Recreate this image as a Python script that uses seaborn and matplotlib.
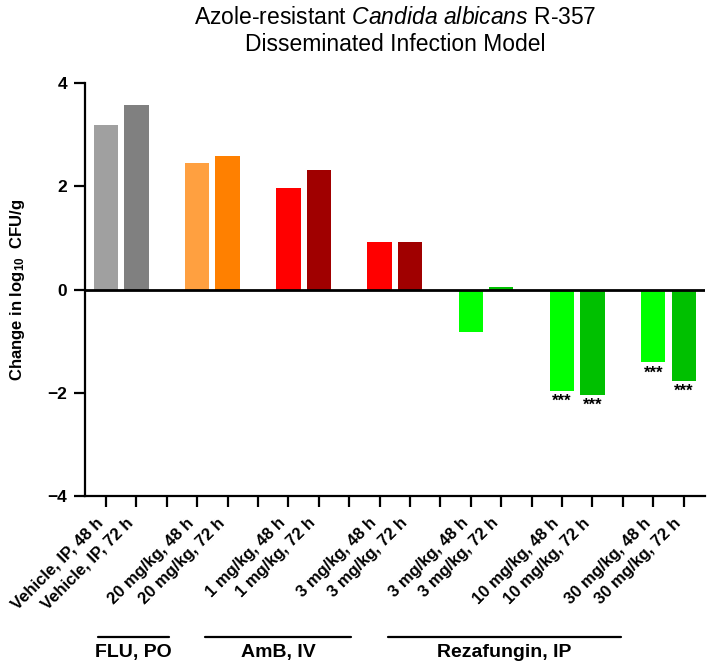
import matplotlib
matplotlib.use("Agg")
import matplotlib.pyplot as plt
from matplotlib import font_manager
import seaborn as sns

# bar labels, one per bar (pairs of 48 h / 72 h)
bar_labels = ["Vehicle, IP, 48 h", "Vehicle, IP, 72 h",
              "20 mg/kg, 48 h", "20 mg/kg, 72 h",
              "1 mg/kg, 48 h", "1 mg/kg, 72 h",
              "3 mg/kg, 48 h", "3 mg/kg, 72 h",
              "3 mg/kg, 48 h", "3 mg/kg, 72 h",
              "10 mg/kg, 48 h", "10 mg/kg, 72 h",
              "30 mg/kg, 48 h", "30 mg/kg, 72 h"]
# change in log10 CFU/g
change = [3.19, 3.57, 2.46, 2.59, 1.97, 2.32, 0.92, 0.92,
          -0.83, 0.04, -1.96, -2.04, -1.41, -1.77]
bar_colors = ["#a0a0a0", "#808080", "#ffa040", "#ff8000",
              "#ff0000", "#a00000", "#ff0000", "#a00000",
              "#00ff00", "#00c000", "#00ff00", "#00c000",
              "#00ff00", "#00c000"]
signif = ["", "", "", "", "", "", "", "", "", "", "***", "***", "***", "***"]
# treatment groups and the span of their underline (in tick units)
groups = ["FLU, PO", "AmB, IV", "Rezafungin, IP"]
group_spans = [(-0.26, 2.07), (3.26, 8.06), (9.28, 16.94)]

names = {f.name for f in font_manager.fontManager.ttflist}
title_font = "Liberation Sans Narrow" if "Liberation Sans Narrow" in names else "Liberation Sans"

sns.set_style("ticks", {"axes.edgecolor": "black", "text.color": "black",
                        "axes.labelcolor": "black", "xtick.color": "black",
                        "ytick.color": "black"})
plt.rcParams["font.family"] = ["Liberation Sans", "DejaVu Sans"]
plt.rcParams["mathtext.fontset"] = "custom"
plt.rcParams["mathtext.rm"] = title_font
plt.rcParams["mathtext.it"] = title_font + ":italic"
plt.rcParams["mathtext.bf"] = "Liberation Sans:bold"

# bars come in pairs with an empty slot between pairs
pos = [i + i // 2 for i in range(len(change))]
n_slots = pos[-1] + 1

fig = plt.figure(figsize=(7.09, 6.68), dpi=100)
ax = fig.add_axes([85 / 709, 1 - 496 / 668, 620 / 709, 413 / 668])

sns.barplot(x=pos, y=change, native_scale=True, width=0.8, color="gray",
            saturation=1, errorbar=None, linewidth=0, ax=ax)
for bar, c in zip(ax.patches, bar_colors):
    bar.set_facecolor(c)

for x, v, s in zip(pos, change, signif):
    if s:
        ax.text(x, v - 0.06, s, ha="center", va="top", fontsize=12, fontweight="bold")

ax.axhline(0, color="black", lw=2, zorder=3)

ax.set_ylim(-4, 4)
ax.set_yticks([-4, -2, 0, 2, 4])
ax.set_yticklabels(["\u22124", "\u22122", "0", "2", "4"])
ax.set_xlim(-0.69, 19.7)
slot_labels = [""] * n_slots
for x, lab in zip(pos, bar_labels):
    slot_labels[x] = lab
ax.set_xticks(range(n_slots))
ax.set_xticklabels(slot_labels, rotation=45, ha="right", va="top")

sns.despine(ax=ax)
for side in ["left", "bottom"]:
    ax.spines[side].set_linewidth(1.6)
ax.tick_params(axis="both", length=8, width=1.6, pad=5, color="black", labelcolor="black")
ax.tick_params(axis="x", labelsize=12, pad=6)
ax.tick_params(axis="y", labelsize=12.5)
for t in ax.get_xticklabels() + ax.get_yticklabels():
    t.set_fontweight("bold")

ax.set_xlabel("")
ax.set_ylabel(r"Change in log$_{\mathbf{10}}$  CFU/g", fontsize=12, fontweight="bold")
ax.yaxis.set_label_coords(-(85 - 27) / 620, 0.5)

# group underlines and names below the tick labels
trans = ax.get_xaxis_transform()
for name, (x0, x1) in zip(groups, group_spans):
    ax.plot([x0, x1], [-0.341, -0.341], color="black", lw=1.6, transform=trans, clip_on=False)
    ax.text((x0 + x1) / 2, -0.38, name, transform=trans, ha="center", va="center",
            fontsize=14, fontweight="bold")

fig.text(395 / 709, 1 - 24 / 668, r"Azole-resistant $\mathit{Candida\ albicans}$ R-357",
         ha="center", va="baseline", fontsize=16.5, family=title_font)
fig.text(395 / 709, 1 - 51 / 668, "Disseminated Infection Model",
         ha="center", va="baseline", fontsize=16.5, family=title_font)

fig.savefig("out.png", dpi=100)
